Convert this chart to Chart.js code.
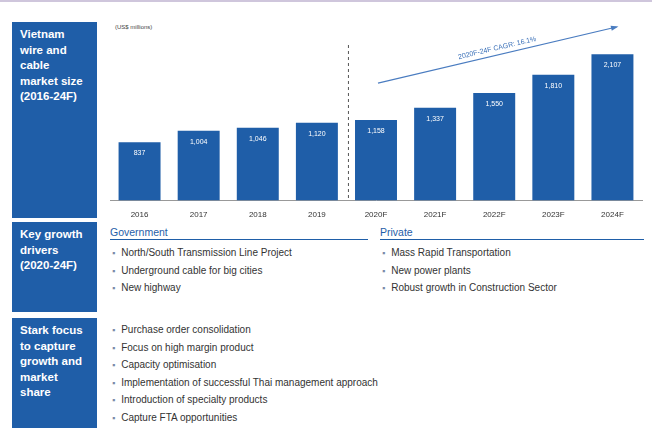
<!DOCTYPE html>
<html>
<head>
<meta charset="utf-8">
<script src="https://cdn.jsdelivr.net/npm/chart.js@4.4.1/dist/chart.umd.min.js"></script>
<style>
  body { margin:0; width:652px; height:433px; background:#fff; font-family:"Liberation Sans", Arial, sans-serif; position:relative; overflow:hidden; }
  .topline { position:absolute; left:0; top:0; width:652px; height:2px; background:#cfc6dc; }
  .box { position:absolute; left:12px; width:85px; background:#1f5ea8; color:#fff; font-weight:bold; font-size:11.5px; line-height:15.5px; padding:5px 0 0 8px; box-sizing:border-box; }
  #chartWrap { position:absolute; left:100px; top:15px; width:552px; height:207px; }
  .unit { position:absolute; left:115px; top:24px; font-size:6px; color:#444; }
  .head { position:absolute; top:226px; font-size:10.5px; color:#1f5ea8; border-bottom:1.5px solid #1f5ea8; padding-bottom:1px; }
  ul { position:absolute; margin:0; padding:0; list-style:none; font-size:10px; color:#333; }
  li { height:17.5px; }
  li::before { content:"\25AA"; color:#7a8aa8; margin-right:6px; font-size:9px; }
</style>
</head>
<body>
<div class="topline"></div>

<div class="box" style="top:22px;height:196px;">Vietnam<br>wire and<br>cable<br>market size<br>(2016-24F)</div>
<div class="box" style="top:222px;height:90px;">Key growth<br>drivers<br>(2020-24F)</div>
<div class="box" style="top:318px;height:110px;">Stark focus<br>to capture<br>growth and<br>market<br>share</div>

<div class="unit">(US$ millions)</div>
<div id="chartWrap"><canvas id="grafico"></canvas></div>

<div class="head" style="left:110px;width:258px;">Government</div>
<div class="head" style="left:380px;width:264px;">Private</div>
<ul id="listaGov" style="left:112px;top:247px;"></ul>
<ul id="listaPriv" style="left:382px;top:247px;"></ul>
<ul id="listaStark" style="left:112px;top:324px;"></ul>

<script>
// ================== Dados ==================
const anos = ['2016','2017','2018','2019','2020F','2021F','2022F','2023F','2024F'];
const valores = [837, 1004, 1046, 1120, 1158, 1337, 1550, 1810, 2107];
const rotulos = ['837','1,004','1,046','1,120','1,158','1,337','1,550','1,810','2,107'];
const textoCagr = '2020F-24F CAGR: 16.1%';

const driversGov = ['North/South Transmission Line Project', 'Underground cable for big cities', 'New highway'];
const driversPriv = ['Mass Rapid Transportation', 'New power plants', 'Robust growth in Construction Sector'];
const focoStark = ['Purchase order consolidation', 'Focus on high margin product', 'Capacity optimisation',
  'Implementation of successful Thai management approach', 'Introduction of specialty products', 'Capture FTA opportunities'];

// ================== Listas ==================
function preencherLista(id, itens) {
  const ul = document.getElementById(id);
  itens.forEach(t => {
    const li = document.createElement('li');
    li.textContent = t;
    ul.appendChild(li);
  });
}
preencherLista('listaGov', driversGov);
preencherLista('listaPriv', driversPriv);
preencherLista('listaStark', focoStark);

// ================== Extras do gráfico ==================
const extras = {
  id: 'extras',
  afterDatasetsDraw(chart) {
    const { ctx, chartArea, scales } = chart;
    const meta = chart.getDatasetMeta(0);

    // rótulos dentro das barras
    ctx.save();
    ctx.fillStyle = '#fff';
    ctx.font = '7px "Liberation Sans", Arial';
    ctx.textAlign = 'center';
    ctx.textBaseline = 'middle';
    meta.data.forEach((bar, i) => ctx.fillText(rotulos[i], bar.x, bar.y + 11));

    // linha tracejada entre real e projeção
    const xDiv = (meta.data[3].x + meta.data[4].x) / 2 + 2;
    ctx.strokeStyle = '#555';
    ctx.lineWidth = 1;
    ctx.setLineDash([3, 3]);
    ctx.beginPath();
    ctx.moveTo(xDiv, chartArea.top + 18);
    ctx.lineTo(xDiv, chartArea.bottom);
    ctx.stroke();
    ctx.setLineDash([]);

    // seta CAGR
    const x0 = meta.data[4].x + 2, y0 = scales.y.getPixelForValue(1690);
    const x1 = meta.data[8].x + 4, y1 = scales.y.getPixelForValue(2500);
    ctx.strokeStyle = '#4a7cc0';
    ctx.lineWidth = 1.2;
    ctx.beginPath();
    ctx.moveTo(x0, y0);
    ctx.lineTo(x1, y1);
    ctx.stroke();
    const ang = Math.atan2(y1 - y0, x1 - x0);
    ctx.fillStyle = '#4a7cc0';
    ctx.beginPath();
    ctx.moveTo(x1 + 2, y1 - 0.5);
    ctx.lineTo(x1 - 6 * Math.cos(ang - 0.45), y1 - 6 * Math.sin(ang - 0.45));
    ctx.lineTo(x1 - 6 * Math.cos(ang + 0.45), y1 - 6 * Math.sin(ang + 0.45));
    ctx.closePath();
    ctx.fill();

    // texto CAGR
    ctx.translate((x0 + x1) / 2, (y0 + y1) / 2 - 7);
    ctx.rotate(ang);
    ctx.fillStyle = '#3a70b8';
    ctx.font = '7px "Liberation Sans", Arial';
    ctx.fillText(textoCagr, 0, 0);
    ctx.restore();
  }
};

// ================== Gráfico ==================
new Chart(document.getElementById('grafico').getContext('2d'), {
  type: 'bar',
  data: {
    labels: anos,
    datasets: [{ data: valores, backgroundColor: '#1f5ea8', categoryPercentage: 1, barPercentage: 0.71 }]
  },
  options: {
    responsive: true,
    maintainAspectRatio: false,
    animation: false,
    layout: { padding: { top: 12, left: 10, right: 10, bottom: 0 } },
    plugins: { legend: { display: false }, tooltip: { enabled: false } },
    scales: {
      x: {
        grid: { display: false },
        border: { color: '#999', width: 1 },
        ticks: { color: '#333', font: { size: 8, family: '"Liberation Sans", Arial' }, padding: 2 }
      },
      y: { display: false, min: 0, max: 2500 }
    }
  },
  plugins: [extras]
});
</script>
</body>
</html>
